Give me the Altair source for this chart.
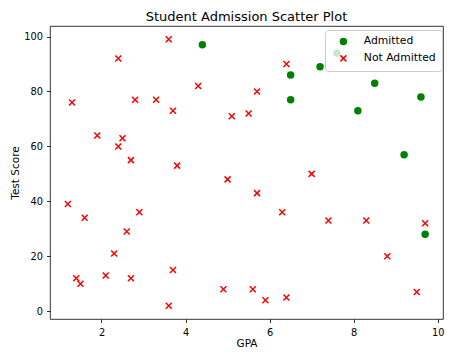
import altair as alt
import pandas as pd

# Admitted students
adm_gpa = [4.4, 6.5, 6.5, 7.2, 7.6, 8.5, 8.1, 9.6, 9.2, 9.7]
adm_score = [97, 86, 77, 89, 94, 83, 73, 78, 57, 28]

# Not admitted students
not_gpa = [3.6, 2.4, 4.3, 1.3, 2.8, 3.3, 3.7, 5.1, 5.5, 1.9,
           2.5, 2.4, 2.7, 3.8, 5.0, 6.4, 5.7, 7.0, 1.2, 1.6,
           2.9, 2.6, 2.3, 1.4, 1.5, 2.1, 2.7, 3.7, 3.6, 4.9,
           5.7, 6.3, 7.4, 8.3, 9.7, 8.8, 5.6, 5.9, 6.4, 9.5]
not_score = [99, 92, 82, 76, 77, 77, 73, 71, 72, 64,
             63, 60, 55, 53, 48, 90, 80, 50, 39, 34,
             36, 29, 21, 12, 10, 13, 12, 15, 2, 8,
             43, 36, 33, 33, 32, 20, 8, 4, 5, 7]

statuses = ["Admitted", "Not Admitted"]
x_ticks = [2, 4, 6, 8, 10]
y_ticks = [0, 20, 40, 60, 80, 100]

rows = [{"GPA": g, "Score": s, "Status": statuses[0]} for g, s in zip(adm_gpa, adm_score)]
rows += [{"GPA": g, "Score": s, "Status": statuses[1]} for g, s in zip(not_gpa, not_score)]
df = pd.DataFrame(rows)

X_PATH = "M-1,-1L1,1M1,-1L-1,1"
FONT = "DejaVu Sans"

legend = alt.Legend(title=None, orient="none", legendX=275, legendY=4)

axis_common = dict(grid=False, domain=False, ticks=True, tickColor="black", tickSize=3.5,
                   tickWidth=0.8, labelFontSize=9.8, labelFont=FONT,
                   labelColor="black", titleFont=FONT, titleFontSize=10.5,
                   titleFontWeight="normal", titleColor="black")

chart = alt.Chart(df).mark_point(filled=True, size=36, strokeWidth=1.5, opacity=1).encode(
    x=alt.X("GPA:Q", scale=alt.Scale(domain=[0.775, 10.125], nice=False, zero=False),
            axis=alt.Axis(values=x_ticks, title="GPA", labelPadding=4.5, titlePadding=2, **axis_common)),
    y=alt.Y("Score:Q", scale=alt.Scale(domain=[-2.85, 103.85], nice=False, zero=False),
            axis=alt.Axis(values=y_ticks, title="Test Score", labelPadding=4, titlePadding=3, **axis_common)),
    fill=alt.Fill("Status:N", scale=alt.Scale(domain=statuses, range=["green", "red"]), legend=legend),
    stroke=alt.Stroke("Status:N", scale=alt.Scale(domain=statuses, range=["green", "red"]), legend=legend),
    shape=alt.Shape("Status:N", scale=alt.Scale(domain=statuses, range=["circle", X_PATH]), legend=legend),
).properties(
    width=393, height=293,
    title=alt.TitleParams("Student Admission Scatter Plot", fontSize=13, font=FONT,
                          fontWeight="normal", color="black", offset=2),
    autosize=alt.AutoSizeParams(type="none"),
    padding={"left": 42, "top": 18, "right": 2, "bottom": 32},
).configure_view(
    stroke="black", strokeWidth=0.8
).configure_legend(
    fillColor="rgba(255,255,255,0.8)", strokeColor="#cccccc", cornerRadius=3, padding=6,
    symbolOffset=7, labelOffset=15, rowPadding=4, labelFontSize=10.8, labelFont=FONT,
    labelColor="black", symbolSize=36, symbolStrokeWidth=1.5
)

chart.save("out.html", embed_options={"renderer": "svg", "actions": False})
